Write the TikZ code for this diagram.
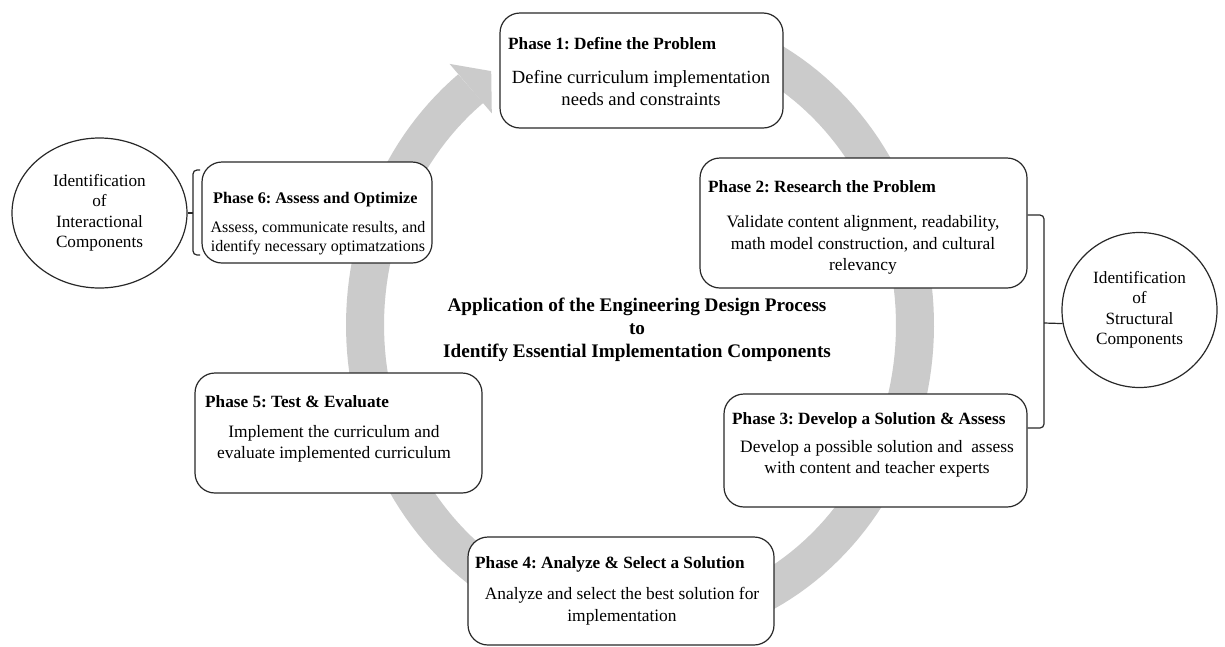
\documentclass[tikz,border=0pt]{standalone}
\usepackage{fontspec}
\setmainfont{Liberation Serif}
\usetikzlibrary{shapes.geometric}
\definecolor{ringgray}{RGB}{203,203,203}
\definecolor{edgecol}{RGB}{40,40,40}
\begin{document}
\begin{tikzpicture}[x=1pt,y=-1pt,
  phasebox/.style={draw=edgecol, line width=1.2pt, rounded corners=20pt, fill=white, inner sep=0pt},
  ttl/.style={anchor=west, font=\frenchspacing\bfseries\fontsize{17.2}{21}\selectfont, inner sep=0pt},
  bdy/.style={anchor=center, align=center, font=\frenchspacing\fontsize{17.4}{21.5}\selectfont, inner sep=0pt},
  comp/.style={draw=edgecol, line width=1.2pt, ellipse, fill=white, inner sep=0pt, align=center, font=\fontsize{17.2}{20.5}\selectfont},
  bracketline/.style={draw=edgecol, line width=1.2pt, rounded corners=4pt},
  ringline/.style={draw=ringgray, line width=38pt, line cap=butt}
]
\useasboundingbox (0,0) rectangle (1225,646);
\fill[white] (0,0) rectangle (1225,646);

% circular arrow
\draw[ringline] plot[domain=-232:70, samples=160, variable=\t] ({640+275*cos(\t)},{325-300*sin(\t)});
\fill[ringgray] (491.2,71.1) -- (491.8,113.3) -- (449.6,63.9) -- cycle;

% phase boxes
\node[phasebox, minimum width=283pt, minimum height=115pt] (b1) at (641.5,70.5) {};
\node[phasebox, minimum width=327pt, minimum height=130pt] (b2) at (863.5,223) {};
\node[phasebox, minimum width=303pt, minimum height=113pt] (b3) at (875.5,450.5) {};
\node[phasebox, minimum width=306pt, minimum height=108pt] (b4) at (621,591) {};
\node[phasebox, minimum width=287pt, minimum height=120pt] (b5) at (338.5,433) {};
\node[phasebox, minimum width=230pt, minimum height=101pt] (b6) at (317,212.5) {};

\node[ttl] (t1) at (508,44) {Phase 1: Define the Problem};
\node[bdy, font=\frenchspacing\fontsize{18.6}{21.5}\selectfont] (d1) at (641,88) {Define curriculum implementation\\needs and constraints};

\node[ttl] (t2) at (708,187) {Phase 2: Research the Problem};
\node[bdy] (d2) at (863,245) {Validate content alignment, readability,\\math model construction, and cultural\\relevancy};

\node[ttl] (t3) at (732,420) {Phase 3: Develop a Solution \& Assess};
\node[bdy] (d3) at (877,459) {Develop a possible solution and~ assess\\with content and teacher experts};

\node[ttl] (t4) at (475,564) {Phase 4: Analyze \& Select a Solution};
\node[bdy] (d4) at (622,606) {Analyze and select the best solution for\\implementation};

\node[ttl] (t5) at (205,402) {Phase 5: Test \& Evaluate};
\node[bdy] (d5) at (334,444) {Implement the curriculum and\\evaluate implemented curriculum};

\node[ttl, font=\frenchspacing\bfseries\fontsize{16.2}{20}\selectfont] (t6) at (213,200) {Phase 6: Assess and Optimize};
\node[bdy, font=\frenchspacing\fontsize{16}{19.5}\selectfont] (d6) at (318,238) {Assess, communicate results, and\\identify necessary optimatzations};

% centre title
\node[align=center, font=\bfseries\fontsize{19.2}{23}\selectfont, inner sep=0pt] (ctitle) at (637,330)
  {Application of the Engineering Design Process\\to\\Identify Essential Implementation Components};

% component ellipses
\node[comp, minimum width=175pt, minimum height=150pt] (sW) at (99.5,213) {Identification\\of\\Interactional\\Components};
\node[comp, minimum width=155pt, minimum height=155pt] (sE) at (1139.5,310) {Identification\\of\\Structural\\Components};

% brackets
\coordinate (lbt) at (200,170);
\coordinate (lbb) at (200,255);
\coordinate (lbm) at (193,213);
\draw[bracketline] (lbt) -- (193,170) -- (193,255) -- (lbb);
\draw[bracketline] (lbm) -- (sW.east);

\coordinate (rbt) at (b2.east |- 0,215);
\coordinate (rbb) at (b3.east |- 0,428);
\coordinate (rbm) at (1044,323);
\draw[bracketline] (rbt) -- (1044,215) -- (1044,428) -- (rbb);
\draw[bracketline] (rbm) -- (sE.190);
\end{tikzpicture}
\end{document}
